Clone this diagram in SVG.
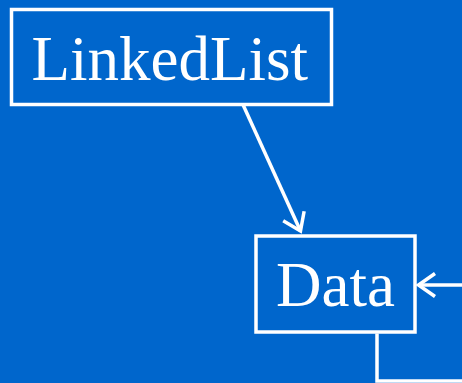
<svg xmlns="http://www.w3.org/2000/svg" width="462" height="383" viewBox="0 0 462 383">
  <style>
    .box { fill: none; stroke: #ffffff; stroke-width: 3.5; }
    .lbl { font-family: "Liberation Serif", "Times New Roman", serif; font-size: 63px; fill: #ffffff; }
    .edge { fill: none; stroke: #ffffff; stroke-width: 3.5; }
  </style>
  <defs>
    <marker id="arr" markerUnits="userSpaceOnUse" markerWidth="24" markerHeight="30" viewBox="-20 -15 24 30" refX="0" refY="0" orient="auto">
      <path d="M -16.5 -11.5 L 0 0 L -16.5 11.5" fill="none" stroke="#ffffff" stroke-width="3.5"/>
    </marker>
  </defs>
  <rect width="462" height="383" fill="#0066CC"/>
  <g id="linkedlist">
    <rect class="box" x="11.5" y="9.5" width="320" height="95"/>
    <text class="lbl" x="31.5" y="80">LinkedList</text>
  </g>
  <g id="data">
    <rect class="box" x="256" y="236" width="159" height="96"/>
    <text class="lbl" x="276" y="306">Data</text>
  </g>
  <g id="connectors">
    <line class="edge" x1="242.7" y1="104" x2="300.5" y2="231" marker-end="url(#arr)"/>
    <polyline class="edge" points="377,333.5 377,381 462,381"/>
    <line class="edge" x1="462" y1="285" x2="418.5" y2="285" marker-end="url(#arr)"/>
  </g>
</svg>
